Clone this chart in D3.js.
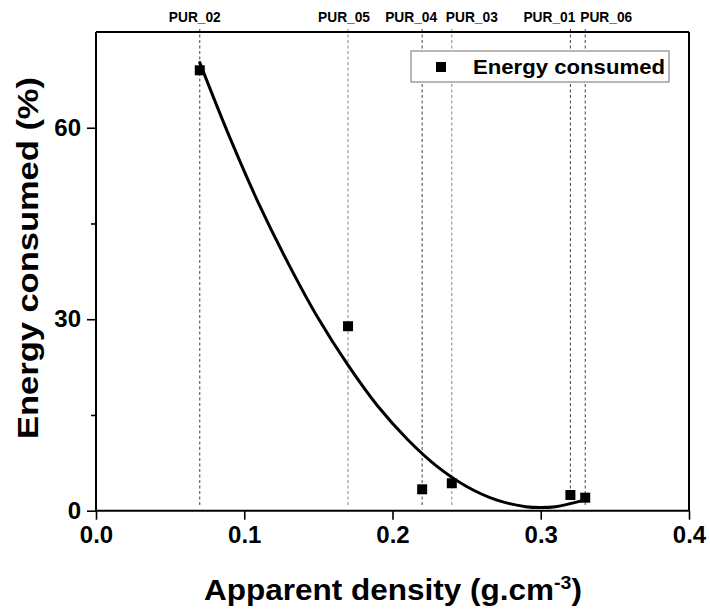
<!DOCTYPE html>
<html><head><meta charset="utf-8">
<script src="https://cdn.jsdelivr.net/npm/d3@7"></script>
<style>html,body{margin:0;padding:0;background:#fff;}svg{display:block;font-family:"Liberation Sans",Arial,sans-serif;}</style>
</head><body>
<svg id="chart" width="710" height="610"></svg>
<script>
// ---- data ----
const samples = ["PUR_02","PUR_05","PUR_04","PUR_03","PUR_01","PUR_06"];
const density = [0.07, 0.17, 0.22, 0.24, 0.32, 0.33];
const energy = [69.0, 28.9, 3.35, 4.3, 2.46, 2.04];
// fitted curve
const fitX = [0.07, 0.09, 0.11, 0.13, 0.15, 0.17, 0.19, 0.21, 0.23, 0.25, 0.27, 0.29, 0.30, 0.31, 0.33];
const fitY = [70.2, 58.6, 48.0, 38.6, 30.1, 22.8, 16.4, 11.2, 6.95, 3.8, 1.7, 0.63, 0.5, 0.63, 1.7];
const xTicks = [0, 0.1, 0.2, 0.3, 0.4];
const yTicks = [0, 30, 60];
const yMinorTicks = [15, 45];
const legendLabel = "Energy consumed";

// ---- layout ----
const svg = d3.select("#chart");
const x = d3.scaleLinear().domain([0, 0.4]).range([96, 689]);
const y = d3.scaleLinear().domain([0, 75]).range([510.7, 32]);
const labelDx = [-5, -4, -11, 20, -21, 21];

// dashed reference lines
svg.append("g").selectAll("line").data(density).join("line")
  .attr("x1", d => x(d)).attr("x2", d => x(d))
  .attr("y1", 29).attr("y2", y(0.7))
  .attr("stroke", (d, i) => (i === 1 || i === 3) ? "#888" : "#444")
  .attr("stroke-width", 1)
  .attr("stroke-dasharray", "3,2.5");

// top labels
svg.append("g").selectAll("text").data(samples).join("text")
  .attr("x", (d, i) => x(density[i]) + labelDx[i])
  .attr("y", 22)
  .attr("text-anchor", "middle")
  .attr("font-size", 14).attr("font-weight", "bold")
  .attr("textLength", 52).attr("lengthAdjust", "spacingAndGlyphs")
  .text(d => d);

// frame top/right
svg.append("line").attr("x1", x(0)).attr("x2", x(0.4)).attr("y1", y(75)).attr("y2", y(75))
  .attr("stroke", "#000").attr("stroke-width", 2);
svg.append("line").attr("x1", x(0.4)).attr("x2", x(0.4)).attr("y1", y(75)).attr("y2", y(0))
  .attr("stroke", "#000").attr("stroke-width", 2);

// axes
const xAxis = svg.append("g").attr("transform", `translate(0,${y(0)})`)
  .call(d3.axisBottom(x).tickValues(xTicks).tickFormat(d3.format(".1f")).tickSize(9).tickPadding(6));
const yAxis = svg.append("g").attr("transform", `translate(${x(0)},0)`)
  .call(d3.axisLeft(y).tickValues(yTicks).tickFormat(d3.format("d")).tickSize(9).tickPadding(6));
svg.append("g").attr("transform", `translate(${x(0)},0)`)
  .call(d3.axisLeft(y).tickValues(yMinorTicks).tickFormat("").tickSize(5))
  .call(g => g.select(".domain").remove());
svg.selectAll(".domain").attr("stroke-width", 2);
svg.selectAll(".tick line").attr("stroke-width", 1.6);
[xAxis, yAxis].forEach(a => a.selectAll(".tick text")
  .attr("font-size", 24).attr("font-weight", "bold")
  .attr("font-family", "Liberation Sans, Arial, sans-serif").attr("fill", "#000"));
xAxis.selectAll(".domain").attr("d", `M${x(0)},0H${x(0.4)}`);
yAxis.selectAll(".domain").attr("d", `M0,${y(0)}V${y(75)}`);

// fit curve
const fitData = fitX.map((v, i) => [v, fitY[i]]);
svg.append("path").datum(fitData)
  .attr("d", d3.line().x(d => x(d[0])).y(d => y(d[1])).curve(d3.curveCatmullRom))
  .attr("fill", "none").attr("stroke", "#000").attr("stroke-width", 3).attr("stroke-linecap", "round");

// points
const ms = 10;
svg.append("g").selectAll("rect").data(density).join("rect")
  .attr("x", d => x(d) - ms / 2)
  .attr("y", (d, i) => y(energy[i]) - ms / 2)
  .attr("width", ms).attr("height", ms).attr("fill", "#000");

// legend
const lg = svg.append("g");
lg.append("rect").attr("x", 411).attr("y", 51).attr("width", 258).attr("height", 31)
  .attr("fill", "#fff").attr("stroke", "#888").attr("stroke-width", 1.2);
lg.append("rect").attr("x", 441 - ms / 2).attr("y", 67 - ms / 2).attr("width", ms).attr("height", ms).attr("fill", "#000");
lg.append("text").attr("x", 473).attr("y", 74).attr("font-size", 21).attr("font-weight", "bold")
  .attr("textLength", 192).attr("lengthAdjust", "spacingAndGlyphs").text(legendLabel);

// axis titles
const xt = svg.append("text").attr("x", 393).attr("y", 600).attr("text-anchor", "middle")
  .attr("font-size", 29).attr("font-weight", "bold")
  .attr("textLength", 378).attr("lengthAdjust", "spacingAndGlyphs");
xt.append("tspan").text("Apparent density (g.cm");
xt.append("tspan").attr("dy", -11).attr("font-size", 18).text("-3");
xt.append("tspan").attr("dy", 11).text(")");

svg.append("text").attr("transform", "translate(38,258) rotate(-90)")
  .attr("text-anchor", "middle").attr("font-size", 30).attr("font-weight", "bold")
  .attr("textLength", 362).attr("lengthAdjust", "spacingAndGlyphs")
  .text("Energy consumed (%)");
</script>
</body></html>
